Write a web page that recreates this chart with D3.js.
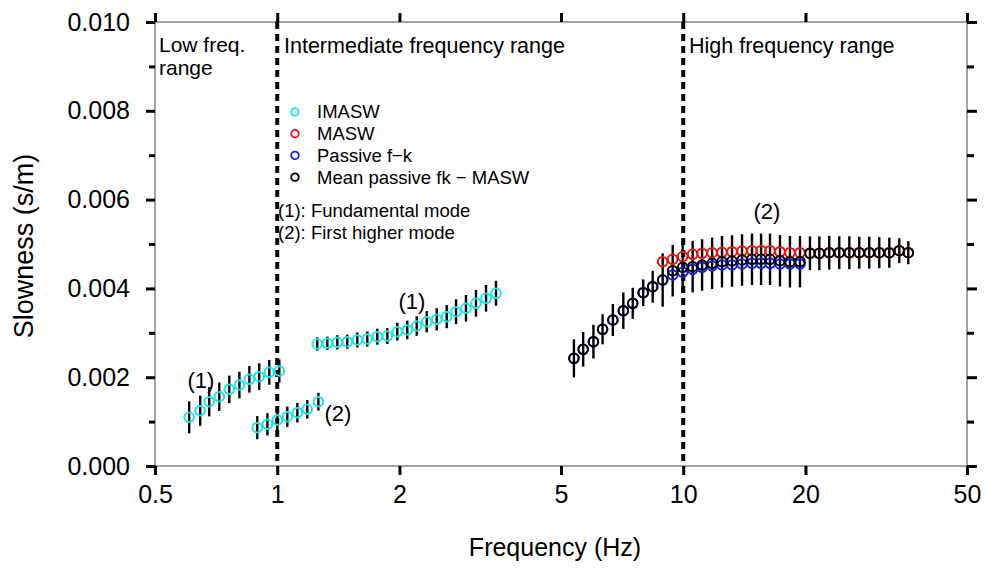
<!DOCTYPE html>
<html>
<head>
<meta charset="utf-8">
<script src="https://cdn.jsdelivr.net/npm/d3@7"></script>
<style>
  body { margin: 0; background: #fff; }
  svg { display: block; font-family: "Liberation Sans", Arial, Helvetica, sans-serif; }
</style>
</head>
<body>
<div class="canvas"></div>
<script>
// ---- data ----
const freqTicks = [0.5, 1, 2, 5, 10, 20, 50];
const slowTicks = [0, 0.002, 0.004, 0.006, 0.008, 0.010];
const slowMinor = [0.001, 0.003, 0.005, 0.007, 0.009];

// IMASW, low freq. fundamental mode (1)
const imaswLowFreq = [0.607, 0.646, 0.680, 0.720, 0.762, 0.807, 0.854, 0.903, 0.956, 1.012];
const imaswLowSlow = [0.001097, 0.001245, 0.001448, 0.001561, 0.001727, 0.001824, 0.001953, 0.002011, 0.002110, 0.002140];
const imaswLowErr  = [0.00036, 0.00034, 0.00033, 0.00032, 0.00031, 0.0003, 0.0003, 0.0003, 0.00028, 0.00026];

// IMASW, first higher mode (2)
const imaswHighFreq = [0.893, 0.946, 1.001, 1.059, 1.121, 1.186, 1.263];
const imaswHighSlow = [0.000863, 0.000939, 0.001036, 0.00111, 0.0012, 0.001277, 0.001448];
const imaswHighErr  = [0.00026, 0.00025, 0.00024, 0.00023, 0.00022, 0.00021, 0.0002];

// IMASW, intermediate fundamental mode (1)
const imaswMidFreq = [1.255, 1.329, 1.406, 1.488, 1.575, 1.667, 1.764, 1.867, 1.976, 2.091,
                      2.206, 2.335, 2.471, 2.615, 2.757, 2.917, 3.087, 3.268, 3.458];
const imaswMidSlow = [0.002748, 0.002764, 0.002786, 0.0028, 0.002838, 0.00286, 0.002912, 0.002928, 0.003025, 0.003063,
                      0.003153, 0.00325, 0.003304, 0.003363, 0.003475, 0.003552, 0.003664, 0.003777, 0.00389];
const imaswMidErr  = [0.00015, 0.00015, 0.00016, 0.00016, 0.00017, 0.00017, 0.00018, 0.00018, 0.0002, 0.00021,
                      0.00022, 0.00024, 0.00025, 0.00026, 0.00028, 0.0003, 0.0003, 0.0003, 0.00028];

// high frequency frequencies
const hiFreq = [5.38, 5.67, 6.01, 6.33, 6.71, 7.12, 7.51, 7.97, 8.41, 8.90,
                9.42, 9.97, 10.55, 11.13, 11.78, 12.46, 13.19, 13.96, 14.77, 15.55,
                16.36, 17.31, 18.32, 19.39, 20.52, 21.64, 22.89, 24.23, 25.65, 27.14,
                28.72, 30.40, 32.18, 34.06, 35.84];

// passive f-k (first 24 frequencies)
const passiveSlow = [0.002426, 0.002628, 0.0028, 0.003079, 0.003288, 0.003498, 0.003664, 0.003903, 0.004038, 0.004189,
                     0.004302, 0.004365, 0.00443, 0.004475, 0.004505, 0.004527, 0.004527, 0.00455, 0.004565, 0.004565,
                     0.004565, 0.00455, 0.00455, 0.00455];

// MASW (from the 10th frequency on)
const maswSlow = [0.004601, 0.004655, 0.004718, 0.004768, 0.004791, 0.004804, 0.004813, 0.004827, 0.004842, 0.004849,
                  0.004849, 0.004849, 0.004827, 0.004804, 0.004804,
                  0.004791, 0.004791, 0.004804, 0.004804, 0.004804, 0.004804, 0.004804, 0.004804, 0.004804, 0.004849, 0.004804];

// mean passive fk - MASW (all frequencies)
const meanSlow = [0.002426, 0.002628, 0.0028, 0.003079, 0.003288, 0.003498, 0.003664, 0.003903, 0.004038, 0.004189,
                  0.004399, 0.004475, 0.004489, 0.004527, 0.004565, 0.004601, 0.004617, 0.00464, 0.004655, 0.004655,
                  0.004655, 0.004624, 0.004601, 0.004601,
                  0.004791, 0.004791, 0.004804, 0.004804, 0.004804, 0.004804, 0.004804, 0.004804, 0.004804, 0.004849, 0.004804];
const meanErr  = [0.00043, 0.00039, 0.00038, 0.00034, 0.00036, 0.00041, 0.00035, 0.0003, 0.00036, 0.0006,
                  0.00058, 0.00058, 0.00058, 0.00058, 0.00058, 0.00058, 0.00058, 0.00058, 0.00058, 0.00058,
                  0.00058, 0.00058, 0.00058, 0.00058,
                  0.00038, 0.00038, 0.00038, 0.00037, 0.00037, 0.00036, 0.00036, 0.00035, 0.00034, 0.00028, 0.00026];

const legendItems = [
  {label: 'IMASW', color: '#19e6e6'},
  {label: 'MASW', color: '#e8140f'},
  {label: 'Passive f\u2212k', color: '#1020e0'},
  {label: 'Mean passive fk \u2212 MASW', color: '#000'}
];
const modeNotes = ['(1): Fundamental mode', '(2): First higher mode'];

// ---- layout ----
const width = 985, height = 568;
const margin = {top: 22, right: 18, bottom: 102, left: 155};
const graphWidth = width - margin.left - margin.right;
const graphHeight = height - margin.top - margin.bottom;

const svg = d3.select('.canvas')
    .append('svg')
    .attr('width', width)
    .attr('height', height);

const graph = svg.append('g')
    .attr('transform', `translate(${margin.left}, ${margin.top})`);

// scales
const x = d3.scaleLog().domain([0.5, 50]).range([0, graphWidth]);
const y = d3.scaleLinear().domain([0, 0.010]).range([graphHeight, 0]);

// frame
graph.append('rect')
    .attr('width', graphWidth)
    .attr('height', graphHeight)
    .attr('fill', 'none')
    .attr('stroke', '#666')
    .attr('stroke-width', 1.2);

// axes
const styleAxis = (g, fontSize) => {
    g.select('.domain').remove();
    g.selectAll('.tick line').attr('stroke', '#000').attr('stroke-width', 3);
    g.selectAll('.tick text').attr('fill', '#000').style('font-size', fontSize + 'px')
        .style('font-family', '"Liberation Sans", Arial, Helvetica, sans-serif');
};

graph.append('g')
    .attr('transform', `translate(0, ${graphHeight})`)
    .call(d3.axisBottom(x).tickValues(freqTicks).tickFormat(d => String(d)).tickSize(9).tickPadding(10))
    .call(g => styleAxis(g, 25));
graph.append('g')
    .call(d3.axisTop(x).tickValues(freqTicks).tickFormat('').tickSize(9))
    .call(g => styleAxis(g, 25));

graph.append('g')
    .call(d3.axisLeft(y).tickValues(slowTicks).tickFormat(d3.format('.3f')).tickSize(9).tickPadding(16))
    .call(g => styleAxis(g, 25));
graph.append('g')
    .call(d3.axisLeft(y).tickValues(slowMinor).tickFormat('').tickSize(6))
    .call(g => styleAxis(g, 25));
graph.append('g')
    .attr('transform', `translate(${graphWidth}, 0)`)
    .call(d3.axisRight(y).tickValues(slowTicks).tickFormat('').tickSize(10))
    .call(g => styleAxis(g, 25));
graph.append('g')
    .attr('transform', `translate(${graphWidth}, 0)`)
    .call(d3.axisRight(y).tickValues(slowMinor).tickFormat('').tickSize(7))
    .call(g => styleAxis(g, 25));

// range separators
graph.selectAll('line.sep')
    .data([1, 10])
    .enter().append('line')
    .attr('class', 'sep')
    .attr('x1', d => x(d)).attr('x2', d => x(d))
    .attr('y1', y(0.010)).attr('y2', y(0))
    .attr('stroke', '#000')
    .attr('stroke-width', 4)
    .attr('stroke-dasharray', '7,5');

// error bars
const drawBars = (freq, slow, err) => {
    graph.append('g').selectAll('line')
        .data(d3.zip(freq, slow, err))
        .enter().append('line')
        .attr('x1', d => x(d[0])).attr('x2', d => x(d[0]))
        .attr('y1', d => y(d[1] - d[2]))
        .attr('y2', d => y(d[1] + d[2]))
        .attr('stroke', '#000')
        .attr('stroke-width', 2.4);
};

// points
const drawPoints = (freq, slow, color) => {
    graph.append('g').selectAll('circle')
        .data(d3.zip(freq, slow))
        .enter().append('circle')
        .attr('cx', d => x(d[0]))
        .attr('cy', d => y(d[1]))
        .attr('r', 4.8)
        .attr('fill', 'none')
        .attr('stroke', color)
        .attr('stroke-width', 2);
};

drawBars(imaswLowFreq, imaswLowSlow, imaswLowErr);
drawBars(imaswHighFreq, imaswHighSlow, imaswHighErr);
drawBars(imaswMidFreq, imaswMidSlow, imaswMidErr);
drawBars(hiFreq, meanSlow, meanErr);

drawPoints(imaswLowFreq, imaswLowSlow, legendItems[0].color);
drawPoints(imaswHighFreq, imaswHighSlow, legendItems[0].color);
drawPoints(imaswMidFreq, imaswMidSlow, legendItems[0].color);
drawPoints(hiFreq.slice(0, passiveSlow.length), passiveSlow, legendItems[2].color);
drawPoints(hiFreq.slice(hiFreq.length - maswSlow.length), maswSlow, legendItems[1].color);
drawPoints(hiFreq, meanSlow, '#000');

// text helper
const label = (txt, px, py, size, anchor) => {
    svg.append('text')
        .attr('x', px).attr('y', py)
        .attr('text-anchor', anchor || 'start')
        .style('font-size', size + 'px')
        .attr('fill', '#000')
        .text(txt);
};

// region labels
label('Low freq.', 159, 52, 21);
label('range', 159, 75, 21);
label('Intermediate frequency range', 284, 53, 21.5);
label('High frequency range', 689, 53, 21.5);

// mode annotations
label('(1)', 201, 388, 22, 'middle');
label('(2)', 338, 421, 22, 'middle');
label('(1)', 412, 309, 22, 'middle');
label('(2)', 767, 219, 22, 'middle');

// legend
const legend = svg.append('g').attr('transform', 'translate(295, 112)');
legendItems.forEach((item, i) => {
    legend.append('circle')
        .attr('cx', 0).attr('cy', i * 21.7)
        .attr('r', 3.8)
        .attr('fill', 'none')
        .attr('stroke', item.color)
        .attr('stroke-width', 1.8);
    legend.append('text')
        .attr('x', 22).attr('y', i * 21.7)
        .attr('dy', '0.35em')
        .style('font-size', '18.5px')
        .text(item.label);
});
modeNotes.forEach((txt, i) => {
    legend.append('text')
        .attr('x', -17).attr('y', 99 + i * 21.5)
        .attr('dy', '0.35em')
        .style('font-size', '18.5px')
        .text(txt);
});

// axis titles
label('Frequency (Hz)', 555, 556, 25, 'middle');
svg.append('text')
    .attr('transform', 'translate(33, 246) rotate(-90)')
    .attr('text-anchor', 'middle')
    .style('font-size', '27px')
    .text('Slowness (s/m)');
</script>
</body>
</html>
